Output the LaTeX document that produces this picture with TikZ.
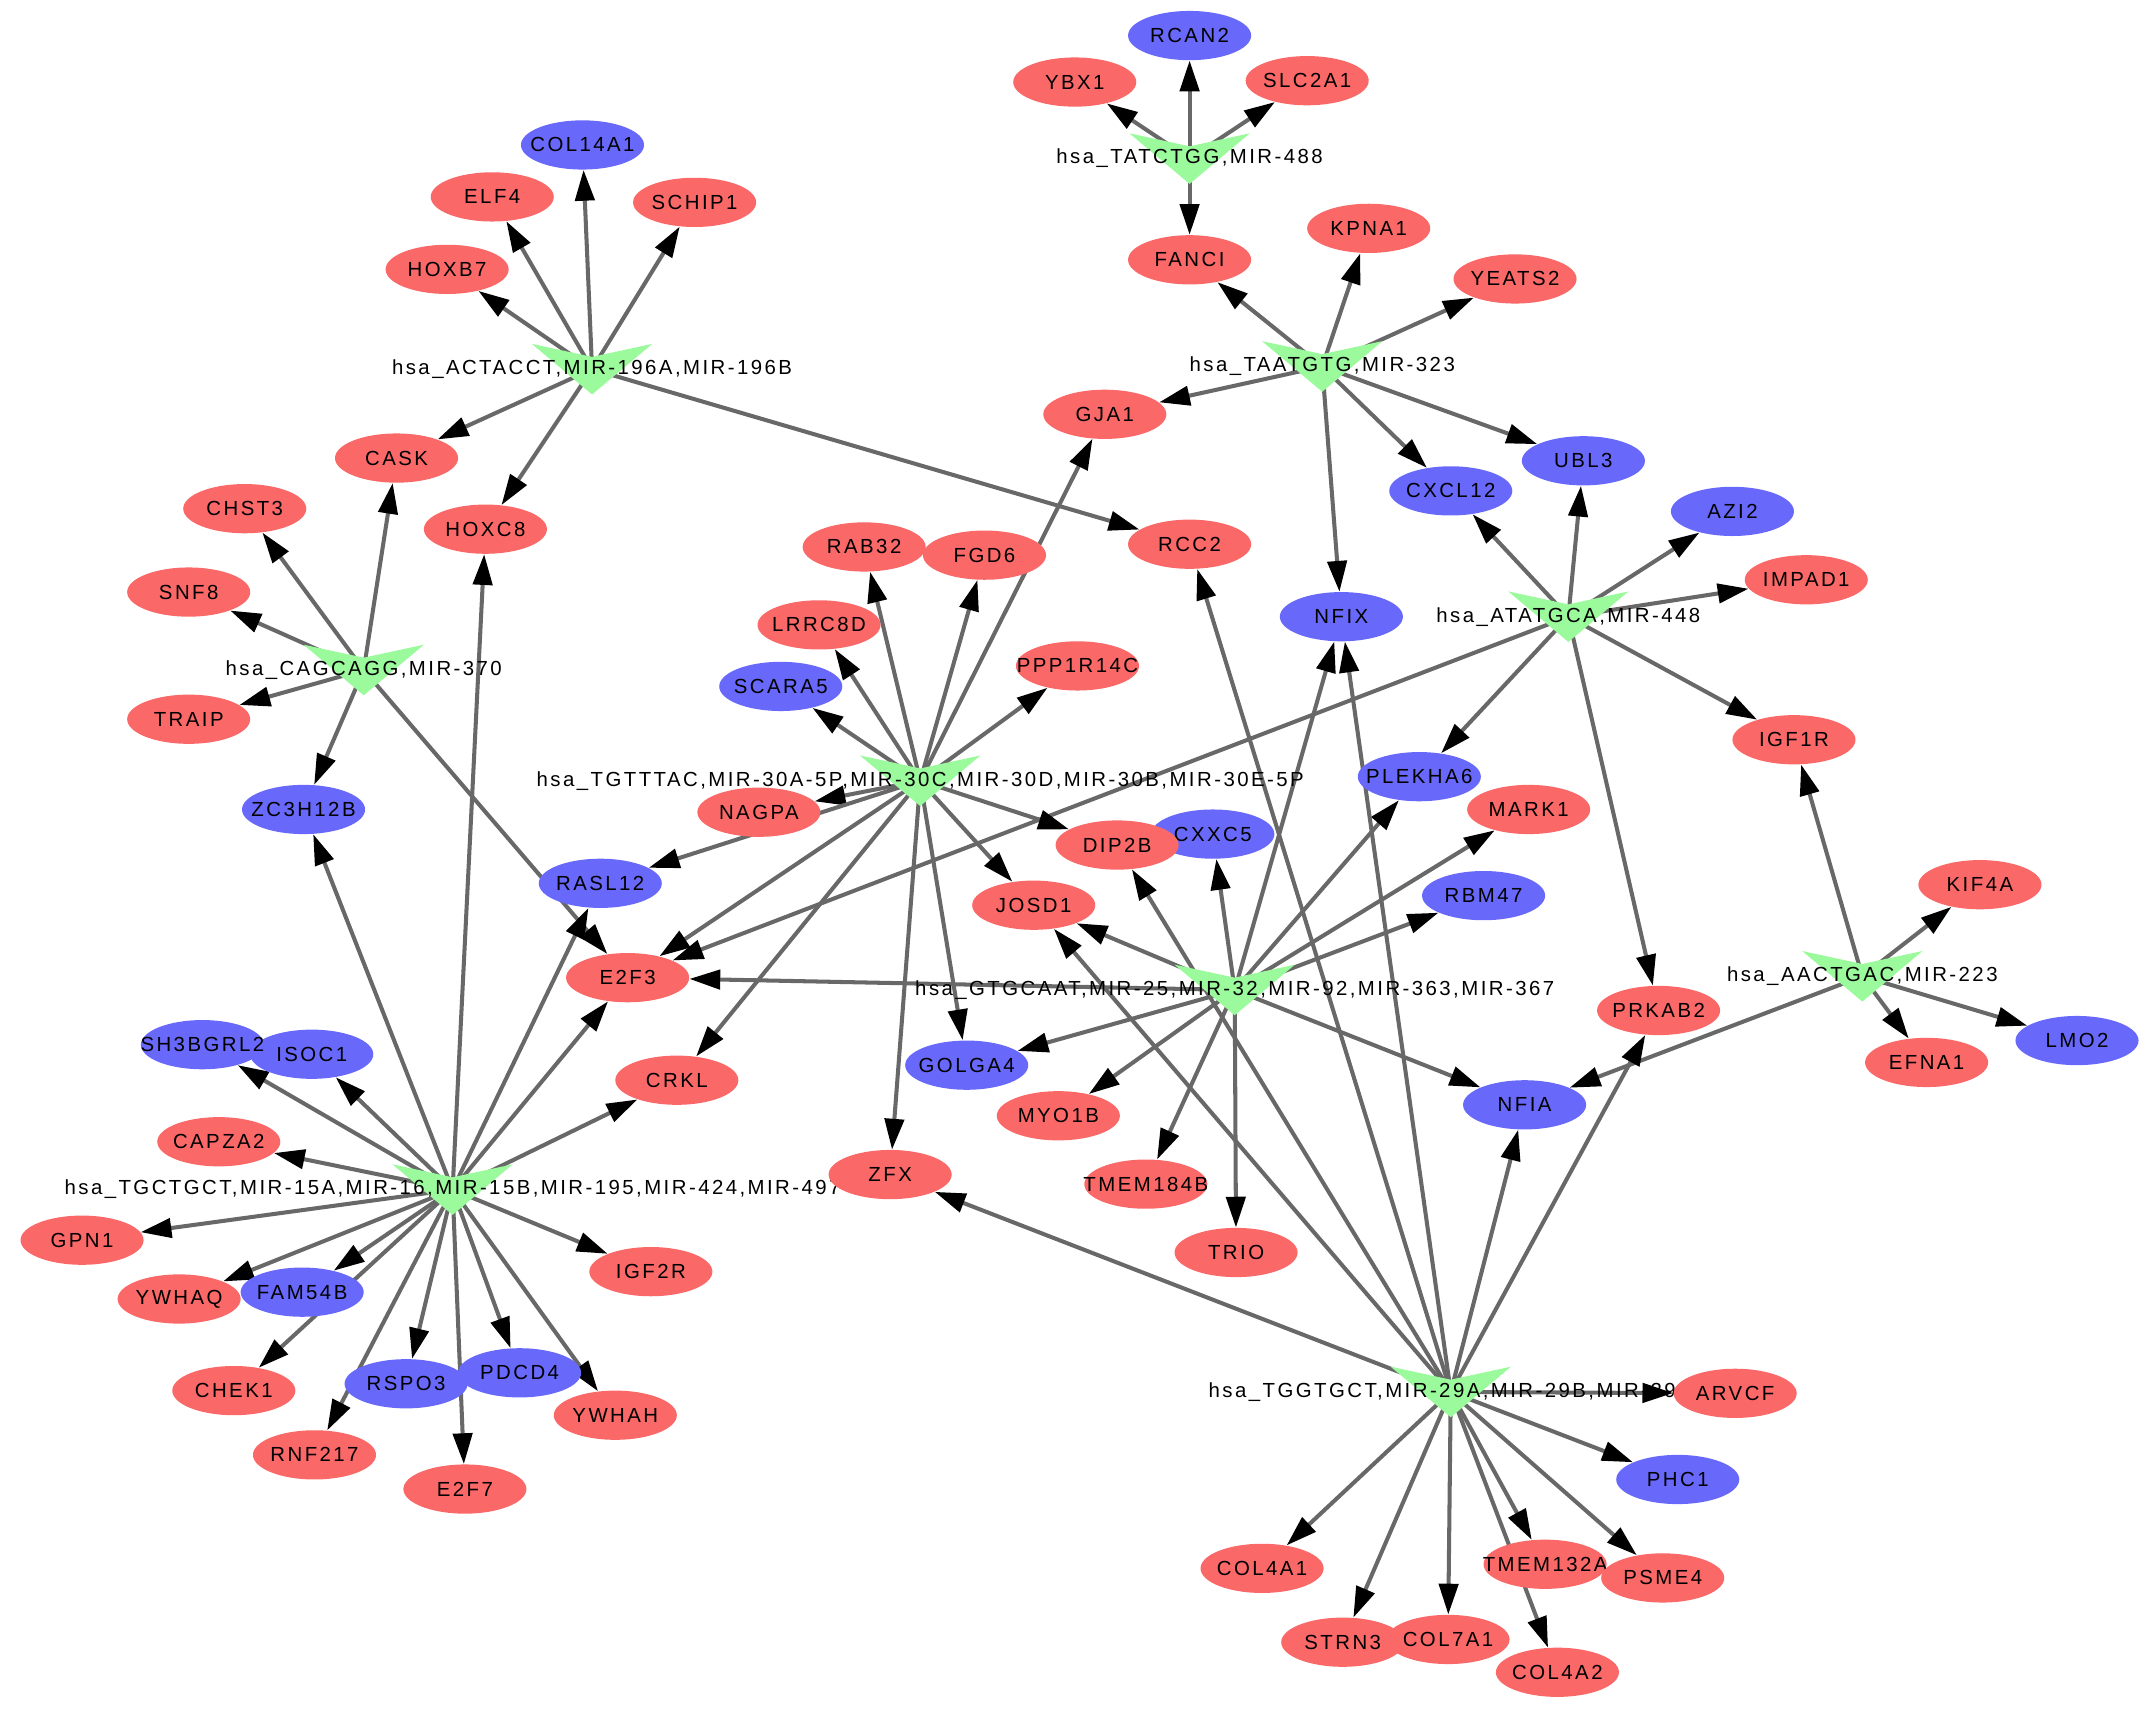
\documentclass[tikz,border=0pt]{standalone}
\usepackage{fontspec}
\setmainfont[LetterSpace=12]{Liberation Sans}
\usepackage{tikz}
\usetikzlibrary{arrows.meta,shapes.geometric}

\definecolor{genered}{RGB}{250,104,104}
\definecolor{geneblue}{RGB}{104,104,250}
\definecolor{hubgreen}{RGB}{155,250,155}
\definecolor{linkgray}{RGB}{104,104,104}

\pgfdeclarelayer{edges}
\pgfdeclarelayer{hubs}
\pgfsetlayers{edges,hubs,main}

\begin{document}
\begin{tikzpicture}[x=0.025cm, y=-0.025cm,
    gene/.style={ellipse, minimum width=64pt, minimum height=25.6pt, inner sep=0pt,
      font=\fontsize{10.6pt}{12pt}\selectfont,
      execute at begin node={\hbox to 0pt\bgroup\hss}, execute at end node={\hss\egroup}},
    redgene/.style={gene, fill=genered},
    bluegene/.style={gene, fill=geneblue},
    hub/.style={inner sep=0pt, font=\fontsize{10.6pt}{12pt}\selectfont},
    vee/.pic={\fill[hubgreen] (-44,-18.5) -- (0,-9) -- (44,-18.5) -- (0,18.5) -- cycle;},
    every edge/.style={draw=linkgray, line width=2.1pt, -{Triangle[length=16pt,width=10pt,black]}}]

    \useasboundingbox (0,0) rectangle (1568,1251);

    % miRNA hubs
    \begin{pgfonlayer}{hubs}
      \pic at (870,116) {vee};
      \node[hub] (h488) at (870,116) {hsa\_TATCTGG,MIR-488};
      \pic at (433,270) {vee};
      \node[hub] (h196) at (433,270) {hsa\_ACTACCT,MIR-196A,MIR-196B};
      \pic at (967,268) {vee};
      \node[hub] (h323) at (967,268) {hsa\_TAATGTG,MIR-323};
      \pic at (1147,451) {vee};
      \node[hub] (h448) at (1147,451) {hsa\_ATATGCA,MIR-448};
      \pic at (266,490) {vee};
      \node[hub] (h370) at (266,490) {hsa\_CAGCAGG,MIR-370};
      \pic at (673,571) {vee};
      \node[hub] (h30) at (673,571) {hsa\_TGTTTAC,MIR-30A-5P,MIR-30C,MIR-30D,MIR-30B,MIR-30E-5P};
      \pic at (903,724) {vee};
      \node[hub] (h32) at (903,724) {hsa\_GTGCAAT,MIR-25,MIR-32,MIR-92,MIR-363,MIR-367};
      \pic at (1362,714) {vee};
      \node[hub] (h223) at (1362,714) {hsa\_AACTGAC,MIR-223};
      \pic at (331,870) {vee};
      \node[hub] (h15) at (331,870) {hsa\_TGCTGCT,MIR-15A,MIR-16,MIR-15B,MIR-195,MIR-424,MIR-497};
      \pic at (1061,1018) {vee};
      \node[hub] (h29) at (1061,1018) {hsa\_TGGTGCT,MIR-29A,MIR-29B,MIR-29C};
    \end{pgfonlayer}

    % Target genes, top
    \node[bluegene] (RCAN2) at (870,26) {RCAN2};
    \node[redgene] (YBX1) at (786,60) {YBX1};
    \node[redgene] (SLC2A1) at (956,59) {SLC2A1};
    \node[redgene] (FANCI) at (870,190) {FANCI};
    \node[bluegene] (COL14A1) at (426,106) {COL14A1};
    \node[redgene] (ELF4) at (360,144) {ELF4};
    \node[redgene] (SCHIP1) at (508,148) {SCHIP1};
    \node[redgene] (HOXB7) at (327,197) {HOXB7};
    \node[redgene] (KPNA1) at (1001,167) {KPNA1};
    \node[redgene] (YEATS2) at (1108,204) {YEATS2};
    \node[redgene] (GJA1) at (808,303) {GJA1};
    \node[redgene] (CASK) at (290,335) {CASK};
    \node[redgene] (HOXC8) at (355,387) {HOXC8};
    \node[redgene] (CHST3) at (179,372) {CHST3};
    \node[redgene] (SNF8) at (138,433) {SNF8};
    \node[redgene] (TRAIP) at (138,526) {TRAIP};
    \node[bluegene] (ZC3H12B) at (222,592) {ZC3H12B};
    \node[bluegene] (UBL3) at (1158,337) {UBL3};
    \node[bluegene] (CXCL12) at (1061,359) {CXCL12};
    \node[bluegene] (AZI2) at (1267,374) {AZI2};
    \node[redgene] (IMPAD1) at (1321,424) {IMPAD1};
    \node[redgene] (RCC2) at (870,398) {RCC2};
    \node[bluegene] (NFIX) at (981,451) {NFIX};
    \node[redgene] (RAB32) at (632,400) {RAB32};
    \node[redgene] (FGD6) at (720,406) {FGD6};
    \node[redgene] (LRRC8D) at (599,457) {LRRC8D};
    \node[redgene] (PPP1R14C) at (788,487) {PPP1R14C};
    \node[bluegene] (SCARA5) at (571,502) {SCARA5};

    % Target genes, middle
    \node[redgene] (IGF1R) at (1312,541) {IGF1R};
    \node[bluegene] (PLEKHA6) at (1038,568) {PLEKHA6};
    \node[redgene] (NAGPA) at (555,594) {NAGPA};
    \node[redgene] (MARK1) at (1118,592) {MARK1};
    \node[bluegene] (CXXC5) at (887,610) {CXXC5};
    \node[redgene] (DIP2B) at (817,618) {DIP2B};
    \node[bluegene] (RASL12) at (439,646) {RASL12};
    \node[bluegene] (RBM47) at (1085,655) {RBM47};
    \node[redgene] (JOSD1) at (756,662) {JOSD1};
    \node[redgene] (KIF4A) at (1448,647) {KIF4A};
    \node[redgene] (E2F3) at (459,715) {E2F3};
    \node[redgene] (PRKAB2) at (1213,739) {PRKAB2};
    \node[bluegene] (LMO2) at (1519,761) {LMO2};
    \node[redgene] (EFNA1) at (1409,777) {EFNA1};
    \node[bluegene] (ISOC1) at (228,771) {ISOC1};
    \node[bluegene] (SH3BGRL2) at (148,764) {SH3BGRL2};
    \node[bluegene] (GOLGA4) at (707,779) {GOLGA4};
    \node[redgene] (CRKL) at (495,790) {CRKL};
    \node[bluegene] (NFIA) at (1115,808) {NFIA};
    \node[redgene] (MYO1B) at (774,816) {MYO1B};
    \node[redgene] (CAPZA2) at (160,835) {CAPZA2};
    \node[redgene] (TMEM184B) at (838,866) {TMEM184B};
    \node[redgene] (ZFX) at (651,859) {ZFX};

    % Target genes, bottom
    \node[redgene] (GPN1) at (60,907) {GPN1};
    \node[redgene] (IGF2R) at (476,930) {IGF2R};
    \node[redgene] (TRIO) at (904,916) {TRIO};
    \node[redgene] (YWHAQ) at (131,950) {YWHAQ};
    \node[bluegene] (FAM54B) at (221,945) {FAM54B};
    \node[redgene] (CHEK1) at (171,1017) {CHEK1};
    \node[bluegene] (RSPO3) at (297,1012) {RSPO3};
    \node[bluegene] (PDCD4) at (380,1004) {PDCD4};
    \node[redgene] (YWHAH) at (450,1035) {YWHAH};
    \node[redgene] (RNF217) at (230,1064) {RNF217};
    \node[redgene] (E2F7) at (340,1089) {E2F7};
    \node[redgene] (ARVCF) at (1269,1019) {ARVCF};
    \node[bluegene] (PHC1) at (1227,1082) {PHC1};
    \node[redgene] (COL4A1) at (923,1147) {COL4A1};
    \node[redgene] (TMEM132A) at (1130,1144) {TMEM132A};
    \node[redgene] (PSME4) at (1216,1154) {PSME4};
    \node[redgene] (COL7A1) at (1059,1199) {COL7A1};
    \node[redgene] (STRN3) at (982,1201) {STRN3};
    \node[redgene] (COL4A2) at (1139,1223) {COL4A2};

    % Hub to target links
    \begin{pgfonlayer}{edges}
      \path (h488.center) edge (RCAN2) edge (YBX1) edge (SLC2A1) edge (FANCI);
      \path (h196.center) edge (COL14A1) edge (ELF4) edge (SCHIP1) edge (HOXB7)
        edge (CASK) edge (HOXC8) edge (RCC2);
      \path (h323.center) edge (FANCI) edge (KPNA1) edge (YEATS2) edge (GJA1)
        edge (UBL3) edge (CXCL12) edge (NFIX);
      \path (h448.center) edge (CXCL12) edge (UBL3) edge (AZI2) edge (IMPAD1)
        edge (IGF1R) edge (PLEKHA6) edge (PRKAB2) edge (E2F3);
      \path (h370.center) edge (CHST3) edge (SNF8) edge (TRAIP) edge (ZC3H12B)
        edge (CASK) edge (E2F3);
      \path (h30.center) edge (RAB32) edge (FGD6) edge (LRRC8D) edge (PPP1R14C)
        edge (SCARA5) edge (GJA1) edge (NAGPA) edge (RASL12) edge (DIP2B)
        edge (JOSD1) edge (E2F3) edge (CRKL) edge (GOLGA4) edge (ZFX);
      \path (h32.center) edge (PLEKHA6) edge (MARK1) edge (RBM47) edge (CXXC5)
        edge (JOSD1) edge (E2F3) edge (NFIX) edge (GOLGA4) edge (MYO1B)
        edge (TMEM184B) edge (TRIO) edge (NFIA);
      \path (h223.center) edge (IGF1R) edge (KIF4A) edge (EFNA1) edge (LMO2) edge (NFIA);
      \path (h15.center) edge (HOXC8) edge (ZC3H12B) edge (RASL12) edge (E2F3)
        edge (CRKL) edge (SH3BGRL2) edge (ISOC1) edge (CAPZA2) edge (GPN1)
        edge (YWHAQ) edge (FAM54B) edge (CHEK1) edge (RSPO3) edge (RNF217)
        edge (E2F7) edge (PDCD4) edge (YWHAH) edge (IGF2R);
      \path (h29.center) edge (ZFX) edge (JOSD1) edge (DIP2B) edge (RCC2)
        edge (NFIX) edge (NFIA) edge (PRKAB2) edge (ARVCF) edge (PHC1)
        edge (COL4A1) edge (STRN3) edge (COL7A1) edge (TMEM132A) edge (PSME4)
        edge (COL4A2);
    \end{pgfonlayer}
\end{tikzpicture}
\end{document}
